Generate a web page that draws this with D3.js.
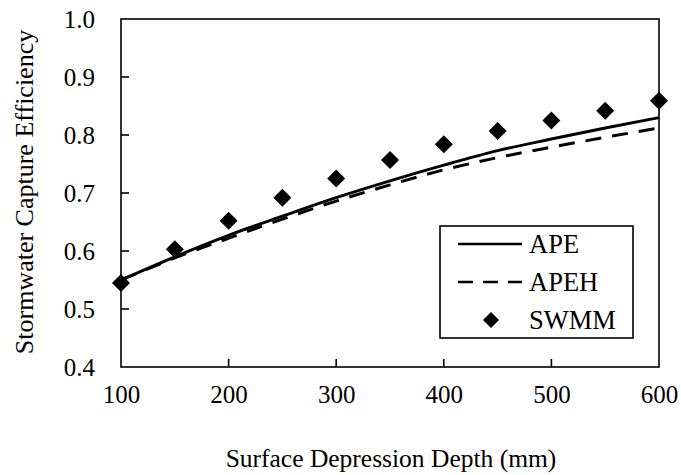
<!DOCTYPE html>
<html>
<head>
<meta charset="utf-8">
<script src="https://cdn.jsdelivr.net/npm/d3@7"></script>
<style>
  html, body { margin: 0; padding: 0; background: #fff; }
  svg text { font-family: "Liberation Serif", "Times New Roman", serif; fill: #000; }
</style>
</head>
<body>
<svg id="chart" width="681" height="475"></svg>
<script>
// ---- data ----
const depth = [100, 150, 200, 250, 300, 350, 400, 450, 500, 550, 600];
const apeValues  = [0.550, 0.590, 0.627, 0.660, 0.692, 0.721, 0.748, 0.773, 0.793, 0.812, 0.830];
const apehValues = [0.550, 0.588, 0.622, 0.655, 0.686, 0.714, 0.740, 0.761, 0.779, 0.796, 0.812];
const swmmValues = [0.545, 0.603, 0.652, 0.692, 0.725, 0.757, 0.784, 0.807, 0.825, 0.842, 0.859];
const xTickLabels = [100, 200, 300, 400, 500, 600];
const yTickLabels = [0.4, 0.5, 0.6, 0.7, 0.8, 0.9, 1.0];
const legendLabels = ["APE", "APEH", "SWMM"];

// ---- layout ----
const svg = d3.select("#chart");
const m = { left: 121, top: 19, right: 659, bottom: 367 };
const x = d3.scaleLinear().domain([100, 600]).range([m.left, m.right]);
const y = d3.scaleLinear().domain([0.4, 1.0]).range([m.bottom, m.top]);

// frame
svg.append("rect")
  .attr("x", m.left).attr("y", m.top)
  .attr("width", m.right - m.left).attr("height", m.bottom - m.top)
  .attr("fill", "none").attr("stroke", "#000").attr("stroke-width", 1.6);

// y axis (ticks inward)
const yAxis = d3.axisLeft(y).tickValues(yTickLabels).tickSize(0).tickPadding(26)
  .tickFormat(d3.format(".1f"));
const gy = svg.append("g").attr("transform", `translate(${m.left},0)`).call(yAxis);
gy.select(".domain").remove();
gy.selectAll("text").style("font-size", "25px").attr("dy", "0.34em")
  .attr("font-family", null);
svg.append("g").selectAll("line")
  .data(yTickLabels.filter(d => d > 0.4 && d < 1.0)).join("line")
  .attr("x1", m.left).attr("x2", m.left + 8)
  .attr("y1", d => y(d)).attr("y2", d => y(d))
  .attr("stroke", "#000").attr("stroke-width", 1.6);

// x axis (ticks inward)
const xAxis = d3.axisBottom(x).tickValues(xTickLabels).tickSize(0).tickPadding(31);
const gx = svg.append("g").attr("transform", `translate(0,${m.bottom})`).call(xAxis);
gx.select(".domain").remove();
gx.selectAll("text").style("font-size", "25px").attr("dy", "0.18em")
  .attr("font-family", null);
svg.append("g").selectAll("line")
  .data(xTickLabels.filter(d => d > 100 && d < 600)).join("line")
  .attr("x1", d => x(d)).attr("x2", d => x(d))
  .attr("y1", m.bottom).attr("y2", m.bottom - 8)
  .attr("stroke", "#000").attr("stroke-width", 1.6);

// axis titles
svg.append("text")
  .attr("x", 391).attr("y", 467)
  .attr("text-anchor", "middle")
  .style("font-size", "25.5px")
  .text("Surface Depression Depth (mm)");
svg.append("text")
  .attr("transform", "translate(33,192) rotate(-90)")
  .attr("text-anchor", "middle")
  .style("font-size", "26px")
  .text("Stormwater Capture Efficiency");

// lines
const line = d3.line().x((d, i) => x(depth[i])).y(d => y(d)).curve(d3.curveMonotoneX);
svg.append("path").datum(apehValues).attr("d", line)
  .attr("fill", "none").attr("stroke", "#000").attr("stroke-width", 3)
  .attr("stroke-dasharray", "16,11");
svg.append("path").datum(apeValues).attr("d", line)
  .attr("fill", "none").attr("stroke", "#000").attr("stroke-width", 3);

// SWMM diamonds
const diamond = (cx, cy, r) => `M${cx},${cy - r}L${cx + r},${cy}L${cx},${cy + r}L${cx - r},${cy}Z`;
svg.append("g").selectAll("path")
  .data(swmmValues).join("path")
  .attr("d", (d, i) => diamond(x(depth[i]), y(d), 9))
  .attr("fill", "#000");

// legend
const lg = svg.append("g");
lg.append("rect").attr("x", 440).attr("y", 226).attr("width", 193).attr("height", 112)
  .attr("fill", "#fff").attr("stroke", "#000").attr("stroke-width", 1.6);
const ly = [244, 282, 320];
lg.append("line").attr("x1", 458).attr("x2", 522).attr("y1", ly[0]).attr("y2", ly[0])
  .attr("stroke", "#000").attr("stroke-width", 2.6);
lg.append("line").attr("x1", 458).attr("x2", 522).attr("y1", ly[1]).attr("y2", ly[1])
  .attr("stroke", "#000").attr("stroke-width", 2.6).attr("stroke-dasharray", "15,10");
lg.append("path").attr("d", diamond(491, ly[2], 8)).attr("fill", "#000");
lg.selectAll("text.lbl").data(legendLabels).join("text")
  .attr("class", "lbl")
  .attr("x", 529).attr("y", (d, i) => ly[i]).attr("dy", "0.35em")
  .style("font-size", "26.5px")
  .text(d => d);
</script>
</body>
</html>
